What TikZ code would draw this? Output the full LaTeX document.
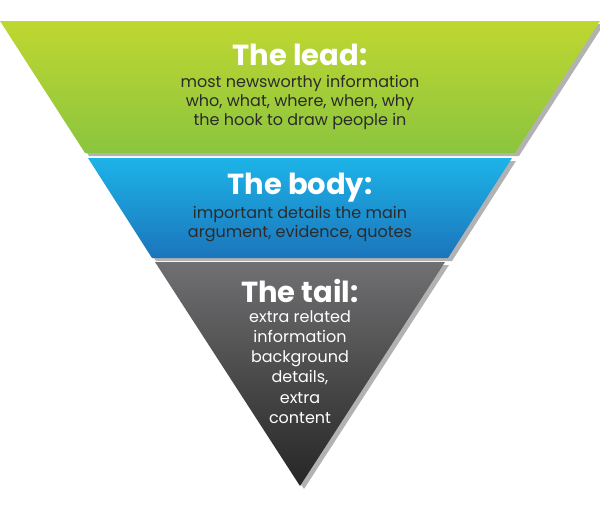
\documentclass[tikz,border=0pt]{standalone}
\usepackage{fontspec}
\setmainfont{Poppins}
\definecolor{gTop}{HTML}{BFD730}
\definecolor{gBot}{HTML}{8BC53F}
\definecolor{bTop}{HTML}{1DB3E8}
\definecolor{bBot}{HTML}{1B75BB}
\definecolor{kTop}{HTML}{707072}
\definecolor{kBot}{HTML}{262626}
\definecolor{txt}{HTML}{2B2B2B}
\tikzset{
  bandfill/.style={draw=none},
  shadowfill/.style={fill=black!60, opacity=0.5, draw=none},
  titletext/.style={font=\fontsize{29}{32}\selectfont\bfseries, text=white, inner sep=0pt, anchor=base},
  bodytext/.style={font=\fontsize{16}{20}\selectfont, text=txt, inner sep=0pt, anchor=base},
  tailtext/.style={bodytext, text=white},
}
\begin{document}
\begin{tikzpicture}[x=1pt,y=-1pt]
\useasboundingbox (0,0) rectangle (600,506);
% shadows
\fill[shadowfill] (4,24) -- (604,24) -- (519,156) -- (89,156) -- cycle;
\fill[shadowfill] (92,161) -- (516,161) -- (452,261) -- (156,261) -- cycle;
\fill[shadowfill] (159,265) -- (449,265) -- (304,489) -- cycle;
% bands
\shade[bandfill, top color=gTop, bottom color=gBot] (0,21) -- (600,21) -- (515,153) -- (85,153) -- cycle;
\shade[bandfill, top color=bTop, bottom color=bBot] (88,158) -- (512,158) -- (448,258) -- (152,258) -- cycle;
\shade[bandfill, top color=kTop, bottom color=kBot] (155,262) -- (445,262) -- (300,486) -- cycle;
% lead
\node[titletext] (leadt) at (300,65) {The lead:};
\node[bodytext] (lead1) at (300,87) {most newsworthy information};
\node[bodytext] (lead2) at (300,106) {who, what, where, when, why};
\node[bodytext] (lead3) at (300,125) {the hook to draw people in};
% body
\node[titletext] (bodyt) at (300,194) {The body:};
\node[bodytext] (body1) at (300,218) {important details the main};
\node[bodytext] (body2) at (300,237) {argument, evidence, quotes};
% tail
\node[titletext] (tailt) at (300,302) {The tail:};
\node[tailtext] (tail1) at (300,322) {extra related};
\node[tailtext] (tail2) at (300,342) {information};
\node[tailtext] (tail3) at (300,362) {background};
\node[tailtext] (tail4) at (300,382) {details,};
\node[tailtext] (tail5) at (300,403) {extra};
\node[tailtext] (tail6) at (300,423) {content};
\end{tikzpicture}
\end{document}
